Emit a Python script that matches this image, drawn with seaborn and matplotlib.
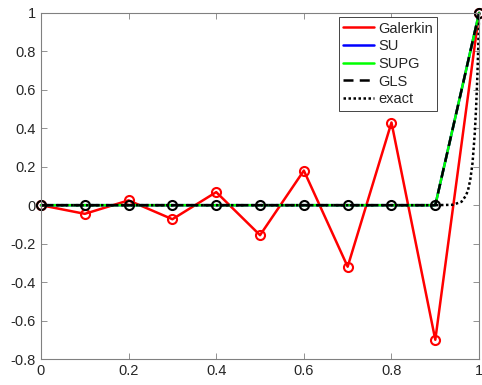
import numpy as np
import pandas as pd
import matplotlib
matplotlib.use("Agg")
import matplotlib.pyplot as plt
import seaborn as sns
from matplotlib.lines import Line2D

x_nodes = [0.0, 0.1, 0.2, 0.3, 0.4, 0.5, 0.6, 0.7, 0.8, 0.9, 1.0]
galerkin = [0.0, -0.045, 0.025, -0.073, 0.068, -0.156, 0.18, -0.32, 0.43, -0.70, 1.0]
su = [0.0, 0.0, 0.0, 0.0, 0.0, 0.0, 0.0, 0.0, 0.0, 0.0, 1.0]
supg = [0.0, 0.0, 0.0, 0.0, 0.0, 0.0, 0.0, 0.0, 0.0, 0.0, 1.0]
gls = [0.0, 0.0, 0.0, 0.0, 0.0, 0.0, 0.0, 0.0, 0.0, 0.0, 1.0]
x_exact = [0.0, 0.9, 0.94, 0.96, 0.97, 0.975, 0.98, 0.985, 0.99, 0.993, 0.996, 0.998, 1.0]
y_exact = [0.0, 0.0, 0.002, 0.018, 0.05, 0.08, 0.135, 0.22, 0.37, 0.5, 0.67, 0.82, 1.0]

xticks = [0, 0.2, 0.4, 0.6, 0.8, 1]
xtick_labels = ["0", "0.2", "0.4", "0.6", "0.8", "1"]
yticks = [-0.8, -0.6, -0.4, -0.2, 0, 0.2, 0.4, 0.6, 0.8, 1]
ytick_labels = ["-0.8", "-0.6", "-0.4", "-0.2", "0", "0.2", "0.4", "0.6", "0.8", "1"]

sns.set_style("white")
plt.rcParams['font.family'] = ['Liberation Sans', 'DejaVu Sans']

fig = plt.figure(figsize=(4.82, 3.85), dpi=100)
ax = fig.add_axes([0.085, 0.0675, 0.909, 0.899])

sns.lineplot(x=x_nodes, y=galerkin, ax=ax, color=(1, 0, 0), linewidth=1.8,
             marker='o', markersize=6.5, markerfacecolor='none', markeredgecolor=(1, 0, 0),
             markeredgewidth=1.5, label='Galerkin', estimator=None, sort=False, clip_on=False)
sns.lineplot(x=x_nodes, y=su, ax=ax, color=(0, 0, 1), linewidth=1.8,
             label='SU', estimator=None, sort=False, clip_on=False)
sns.lineplot(x=x_nodes, y=supg, ax=ax, color=(0, 1, 0), linewidth=1.8,
             label='SUPG', estimator=None, sort=False, clip_on=False)
sns.lineplot(x=x_nodes, y=gls, ax=ax, color='black', linewidth=1.8, linestyle=(0, (4, 2.5)),
             marker='o', markersize=6.5, markerfacecolor='none', markeredgecolor='black',
             markeredgewidth=1.5, label='GLS', estimator=None, sort=False, clip_on=False)
sns.lineplot(x=x_exact, y=y_exact, ax=ax, color='black', linewidth=1.8, linestyle=(0, (1, 1)),
             label='exact', estimator=None, sort=False, clip_on=False)

handles = [
    Line2D([], [], color=(1, 0, 0), lw=1.8),
    Line2D([], [], color=(0, 0, 1), lw=1.8),
    Line2D([], [], color=(0, 1, 0), lw=1.8),
    Line2D([], [], color='black', lw=1.8, linestyle=(0, (4, 2.5))),
    Line2D([], [], color='black', lw=1.8, linestyle=(0, (1, 1))),
]
leg = ax.legend(handles, ['Galerkin', 'SU', 'SUPG', 'GLS', 'exact'],
                loc='upper right', bbox_to_anchor=(0.911, 0.996), fontsize=10.5,
                frameon=True, fancybox=False, framealpha=1, edgecolor='#262626',
                handlelength=2.1, handletextpad=0.3, borderpad=0.3, labelspacing=0.25,
                borderaxespad=0.2)
leg.get_frame().set_linewidth(0.6)

ax.set_xlim(0, 1)
ax.set_ylim(-0.8, 1)
ax.set_xticks(xticks)
ax.set_xticklabels(xtick_labels)
ax.set_yticks(yticks)
ax.set_yticklabels(ytick_labels)
ax.tick_params(direction='in', length=4, width=0.6, colors='#808080', labelcolor='#262626',
               labelsize=10.5, top=True, right=True, bottom=True, left=True)
for s in ax.spines.values():
    s.set_color('#808080')
    s.set_linewidth(0.8)
    s.set_visible(True)
ax.set_xlabel('')
ax.set_ylabel('')

fig.savefig('out.png', dpi=100)
